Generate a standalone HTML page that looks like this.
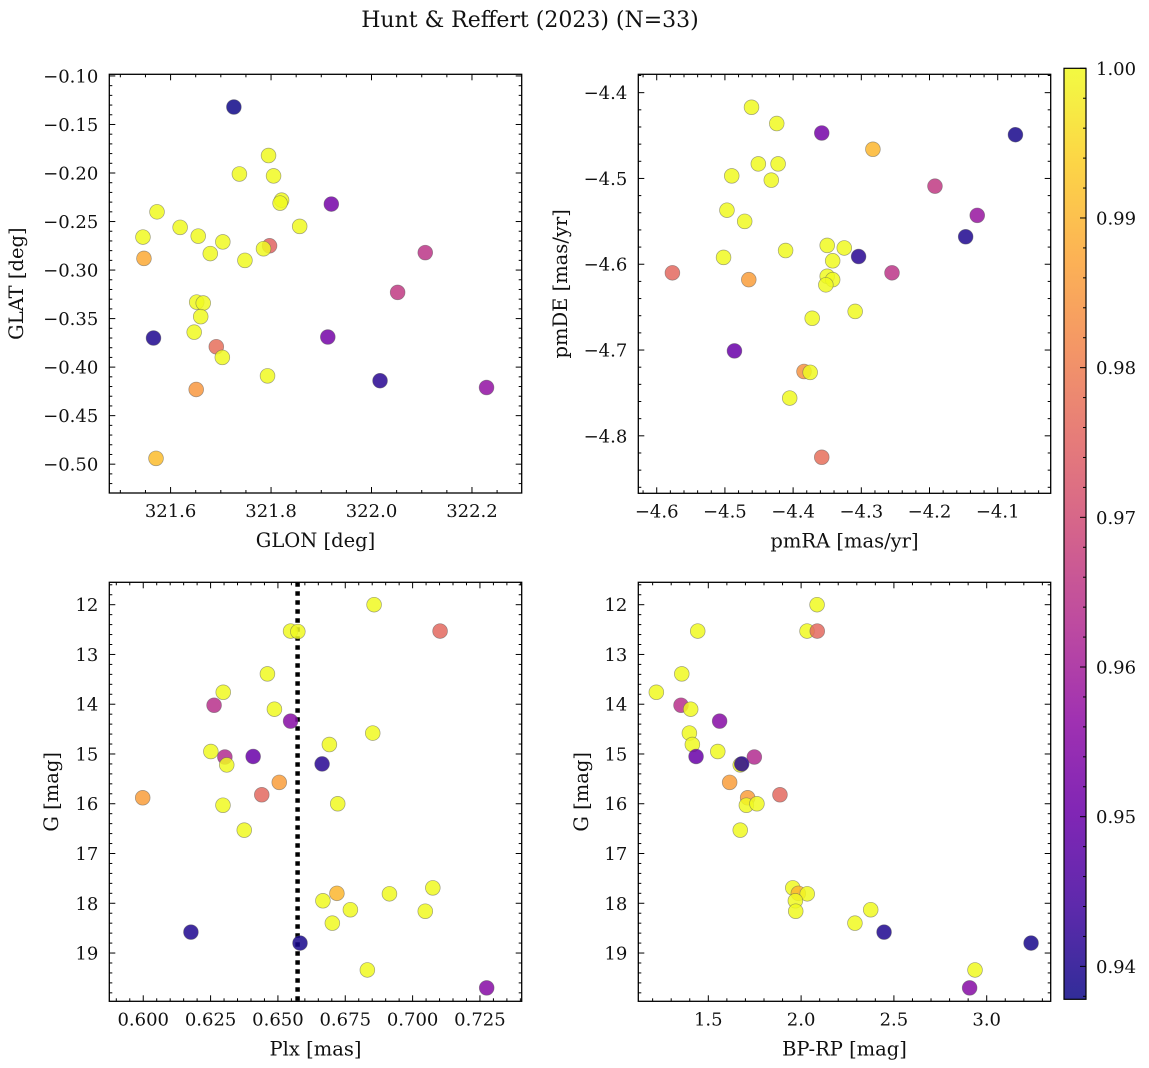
<!DOCTYPE html>
<html><head><meta charset="utf-8">
<style>
html,body{margin:0;padding:0;background:#fff;}
svg{display:block;font-family:"DejaVu Serif","Liberation Serif",serif;}
</style></head>
<body>
<svg id="fig" width="1149" height="1068" viewBox="0 0 1149 1068" xmlns="http://www.w3.org/2000/svg">
<rect x="0" y="0" width="1149" height="1068" fill="#fff"/>
<text x="530" y="27" font-size="22" text-anchor="middle" fill="#111">Hunt &amp; Reffert (2023) (N=33)</text>
</svg>
<script>
// ---- Panel 1 data: GLON / GLAT
const glon = [321.726,321.795,321.737,321.805,321.821,321.818,321.920,321.573,321.619,321.857,321.545,321.655,321.704,321.797,321.785,321.679,321.748,321.547,322.107,322.052,321.652,321.665,321.660,321.647,321.566,321.913,321.691,321.703,321.793,322.017,322.229,321.651,321.571];
const glat = [-0.132,-0.182,-0.201,-0.203,-0.228,-0.231,-0.232,-0.240,-0.256,-0.255,-0.266,-0.265,-0.271,-0.275,-0.278,-0.283,-0.290,-0.288,-0.282,-0.323,-0.333,-0.334,-0.348,-0.364,-0.370,-0.369,-0.379,-0.390,-0.409,-0.414,-0.421,-0.423,-0.494];
const prob1 = [0.938,1,1,1,1,1,0.952,1,1,1,1,1,1,0.975,1,1,1,0.988,0.965,0.966,1,1,1,1,0.940,0.952,0.977,1,1,0.941,0.957,0.985,0.991];
// ---- Panel 2 data: pmRA / pmDE
const pmra = [-4.461,-4.424,-4.358,-4.074,-4.283,-4.451,-4.422,-4.490,-4.432,-4.192,-4.130,-4.497,-4.471,-4.147,-4.350,-4.325,-4.411,-4.304,-4.502,-4.342,-4.577,-4.255,-4.350,-4.342,-4.465,-4.352,-4.309,-4.372,-4.486,-4.384,-4.375,-4.405,-4.358];
const pmde = [-4.417,-4.436,-4.447,-4.449,-4.466,-4.483,-4.483,-4.497,-4.502,-4.509,-4.543,-4.537,-4.550,-4.568,-4.578,-4.581,-4.584,-4.591,-4.592,-4.596,-4.610,-4.610,-4.614,-4.618,-4.618,-4.624,-4.655,-4.663,-4.701,-4.725,-4.726,-4.756,-4.825];
const prob2 = [1,1,0.952,0.939,0.990,1,1,1,1,0.966,0.958,1,1,0.940,1,1,1,0.941,1,1,0.976,0.965,1,1,0.986,1,1,1,0.950,0.984,1,1,0.977];
// ---- Panels 3 & 4 data: Plx, BP-RP, G
const plx = [0.6857,0.6547,0.6574,0.7102,0.6461,0.6297,0.6263,0.6487,0.6547,0.6852,0.6691,0.6251,0.6303,0.6408,0.6310,0.6664,0.6505,0.5998,0.6440,0.6296,0.6722,0.6375,0.7075,0.6719,0.6914,0.6667,0.6769,0.7047,0.6702,0.6177,0.6582,0.6832,0.7275];
const gmag = [12.00,12.53,12.54,12.53,13.39,13.76,14.02,14.10,14.34,14.58,14.81,14.95,15.06,15.05,15.22,15.20,15.57,15.88,15.82,16.03,16.00,16.53,17.69,17.80,17.81,17.95,18.13,18.16,18.40,18.58,18.80,19.34,19.70];
const prob34 = [1,1,1,0.976,1,1,0.964,1,0.955,1,1,1,0.963,0.950,1,0.941,0.986,0.986,0.976,1,1,1,1,0.990,1,1,1,1,1,0.940,0.939,1,0.955];
const gmag4 = [12.00,12.53,12.53,12.53,13.39,13.76,14.02,14.10,14.34,14.58,14.81,14.95,15.06,15.05,15.22,15.20,15.57,15.88,15.82,16.03,16.00,16.53,17.69,17.80,17.81,17.95,18.13,18.16,18.40,18.58,18.80,19.34,19.70];
const bprp = [2.086,1.443,2.032,2.087,1.357,1.220,1.353,1.405,1.561,1.398,1.414,1.551,1.748,1.434,1.672,1.680,1.615,1.712,1.886,1.705,1.762,1.672,1.955,1.985,2.033,1.969,2.375,1.971,2.290,2.447,3.239,2.937,2.908];
const plxCut = [0.6573];
// ---- tick labels
const ticks1x = [321.6,321.8,322.0,322.2];
const ticks1y = [-0.10,-0.15,-0.20,-0.25,-0.30,-0.35,-0.40,-0.45,-0.50];
const ticks2x = [-4.6,-4.5,-4.4,-4.3,-4.2,-4.1];
const ticks2y = [-4.4,-4.5,-4.6,-4.7,-4.8];
const ticks3x = [0.600,0.625,0.650,0.675,0.700,0.725];
const ticksGy = [12,13,14,15,16,17,18,19];
const ticks4x = [1.5,2.0,2.5,3.0];
const cbTicks = [0.94,0.95,0.96,0.97,0.98,0.99,1.00];
const vmin = 0.9378, vmax = 1.0;

const NS = "http://www.w3.org/2000/svg";
const svg = document.getElementById('fig');
function mk(tag, attrs, parent){ const e=document.createElementNS(NS,tag); for(const k in attrs) e.setAttribute(k,attrs[k]); (parent||svg).appendChild(e); return e; }
const plasma = [[13,8,135],[65,4,157],[106,0,168],[143,13,164],[177,42,144],[204,71,120],[225,100,98],[242,132,75],[252,166,54],[252,206,37],[240,249,33]];
function cmap(v){
  let t=(v-vmin)/(vmax-vmin); t=Math.max(0,Math.min(1,t));
  const p=t*10, i=Math.min(9,Math.floor(p)), f=p-i;
  const a=plasma[i], b=plasma[i+1];
  return 'rgb('+a.map((c,j)=>Math.round(c+(b[j]-c)*f)).join(',')+')';
}
const fmtMinus = s => s.replace('-', '\u2212');
const TF = 18, LF = 19.5;

function panel(o){
  const g = mk('g',{});
  
  
  const sx = v => o.x0 + (v-o.xlim[0])/(o.xlim[1]-o.xlim[0])*(o.x1-o.x0);
  const sy = v => o.y0 + (v-o.ylim[0])/(o.ylim[1]-o.ylim[0])*(o.y1-o.y0);
  const tg = mk('g',{stroke:'#000','stroke-width':1},g);
  function xt(v,len){ const x=sx(v); if(x<o.x0-0.1||x>o.x1+0.1) return; mk('line',{x1:x,x2:x,y1:o.y1,y2:o.y1-len},tg); mk('line',{x1:x,x2:x,y1:o.y0,y2:o.y0+len},tg); }
  function yt(v,len){ const y=sy(v); if(y<Math.min(o.y0,o.y1)-0.1||y>Math.max(o.y0,o.y1)+0.1) return; mk('line',{x1:o.x0,x2:o.x0+len,y1:y,y2:y},tg); mk('line',{x1:o.x1,x2:o.x1-len,y1:y,y2:y},tg); }
  const xs=o.xt[1]-o.xt[0], ys=o.yt[1]-o.yt[0];
  for(let k=-30;k<60;k++){ const v=o.xt[0]+k*xs/o.xdiv; xt(v, k%o.xdiv===0?6:3); }
  for(let k=-30;k<60;k++){ const v=o.yt[0]+k*ys/o.ydiv; yt(v, k%o.ydiv===0?6:3); }
  o.xt.forEach(v=>{ const t=mk('text',{x:sx(v),y:o.y1+24,'font-size':TF,'text-anchor':'middle',fill:'#111'},g); t.textContent=fmtMinus(v.toFixed(o.xd));   });
  o.yt.forEach(v=>{ const t=mk('text',{x:o.x0-11,y:sy(v)+6.5,'font-size':TF,'text-anchor':'end',fill:'#111'},g); t.textContent=fmtMinus(v.toFixed(o.yd));   });
  const xl=mk('text',{x:(o.x0+o.x1)/2,y:o.y1+54,'font-size':LF,'text-anchor':'middle',fill:'#111'},g); xl.textContent=o.xlabel;
   
  const yx=o.ylx, yy=(o.y0+o.y1)/2;
  const yl=mk('text',{x:yx,y:yy,'font-size':LF,'text-anchor':'middle',fill:'#111',transform:'rotate(-90 '+yx+' '+yy+')'},g); yl.textContent=o.ylabel;
   
  if(o.vline){ o.vline.forEach(v=>{ const l=mk('line',{x1:sx(v),x2:sx(v),y1:o.y0,y2:o.y1,stroke:'#000','stroke-width':4.5,'stroke-dasharray':'4.5 4.5'},g);   }); }
  o.xs.forEach((xv,i)=>{
    const c=mk('circle',{cx:sx(xv),cy:sy(o.ys[i]),r:7.4,fill:cmap(o.cs[i]),'fill-opacity':0.85,stroke:'rgba(90,90,90,0.55)','stroke-width':0.7},g);
    
    
  });
  const fr=mk('rect',{x:o.x0,y:Math.min(o.y0,o.y1),width:o.x1-o.x0,height:Math.abs(o.y1-o.y0),fill:'none',stroke:'#000','stroke-width':1.3},g);
   
}

panel({name:'panel-glon-glat',x0:109.3,x1:521.7,y0:74.3,y1:493,xlim:[321.478,322.299],ylim:[-0.0983,-0.5297],xt:ticks1x,yt:ticks1y,xdiv:4,ydiv:5,xd:1,yd:2,xlabel:'GLON [deg]',ylabel:'GLAT [deg]',ylx:23,xs:glon,ys:glat,cs:prob1});
panel({name:'panel-pm',x0:638.3,x1:1050.7,y0:74.3,y1:493.3,xlim:[-4.627,-4.0223],ylim:[-4.3786,-4.867],xt:ticks2x,yt:ticks2y,xdiv:5,ydiv:5,xd:1,yd:1,xlabel:'pmRA [mas/yr]',ylabel:'pmDE [mas/yr]',ylx:567,xs:pmra,ys:pmde,cs:prob2});
panel({name:'panel-plx-g',x0:109.3,x1:521.7,y0:582.3,y1:1001.3,xlim:[0.5874,0.7405],ylim:[11.55,19.97],xt:ticks3x,yt:ticksGy,xdiv:5,ydiv:5,xd:3,yd:0,xlabel:'Plx [mas]',ylabel:'G [mag]',ylx:58,xs:plx,ys:gmag,cs:prob34,vline:plxCut});
panel({name:'panel-cmd',x0:638.3,x1:1050.7,y0:582.3,y1:1001.3,xlim:[1.1228,3.3448],ylim:[11.55,19.97],xt:ticks4x,yt:ticksGy,xdiv:5,ydiv:5,xd:1,yd:0,xlabel:'BP-RP [mag]',ylabel:'G [mag]',ylx:588,xs:bprp,ys:gmag4,cs:prob34});

// colorbar
(function(){
  const cx0=1064, cx1=1086, cy0=68.3, cy1=999.3;
  const defs=mk('defs',{});
  const lg=mk('linearGradient',{id:'cbg',x1:0,y1:1,x2:0,y2:0},defs);
  for(let k=0;k<=20;k++){ const t=k/20; mk('stop',{offset:t,'stop-color':cmap(vmin+t*(vmax-vmin)),'stop-opacity':0.85},lg); }
  const g=mk('g',{});
   
  mk('rect',{x:cx0,y:cy0,width:cx1-cx0,height:cy1-cy0,fill:'url(#cbg)',stroke:'#000','stroke-width':1.2},g);
  const sy=v=>cy1-(v-vmin)/(vmax-vmin)*(cy1-cy0);
  for(let k=0;k<=40;k++){ const v=0.936+k*0.002; const y=sy(v); if(y<cy0-0.1||y>cy1+0.1) continue; const major=k%5===2; mk('line',{x1:cx1,x2:cx1-(major?6:3),y1:y,y2:y,stroke:'#000','stroke-width':1},g); }
  cbTicks.forEach(v=>{ const t=mk('text',{x:cx1+10,y:sy(v)+6.5,'font-size':TF,fill:'#111'},g); t.textContent=v.toFixed(2);   });
})();
</script>
</body></html>
